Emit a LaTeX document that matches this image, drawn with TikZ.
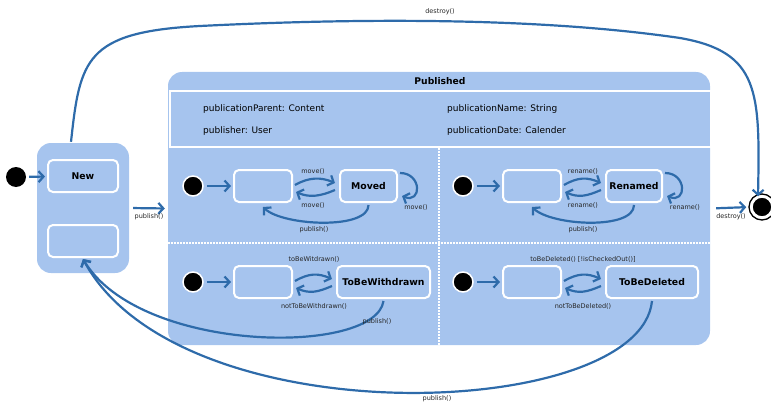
\documentclass[tikz,border=0pt]{standalone}
\usepackage{fontspec}
\setmainfont{DejaVu Sans}
\usetikzlibrary{arrows.meta}
\definecolor{lb}{HTML}{A6C4EE}
\definecolor{ln}{HTML}{2E6BAA}
\begin{document}
\begin{tikzpicture}[x=1pt,y=-1pt,
 statebox/.style={draw=white, line width=2pt, fill=lb, rounded corners=5pt, minimum height=32pt, font=\fontsize{9.3}{11}\selectfont\bfseries, inner sep=0pt},
 lbl/.style={font=\fontsize{6.5}{7.5}\selectfont, text=black!85, inner sep=0pt},
 attr/.style={font=\fontsize{9}{10}\selectfont, anchor=west, inner sep=0pt},
 initdot/.style={circle, fill=black, minimum size=20pt, inner sep=0pt},
 initw/.style={initdot, draw=white, line width=1.5pt},
 tr/.style={draw=ln, line width=2.2pt, -{Straight Barb[length=5pt,width=11pt,line width=2.2pt]}},
 sep/.style={white, line width=1.5pt, dash pattern=on 1.5pt off 1.5pt},
]
\useasboundingbox (0,0) rectangle (771,404);
% New composite
\node[initdot] (i0) at (16,177) {};
\node[fill=lb, rounded corners=14pt, minimum width=92pt, minimum height=130pt, inner sep=0pt] (newbox) at (83,208) {};
\node[statebox, minimum width=70pt] (n1) at (83,176) {New};
\node[statebox, minimum width=70pt] (n2) at (83,241) {};
% Published composite
\node[fill=lb, rounded corners=14pt, minimum width=542pt, minimum height=273pt, inner sep=0pt] (pub) at (439,208.5) {};
\node[font=\fontsize{9.2}{11}\selectfont\bfseries, inner sep=0pt] (pt) at (440,81) {Published};
\draw[white, line width=1.5pt, fill=lb] (170,91) rectangle (711,147);
\node[attr] (a1) at (203,109) {publicationParent: Content};
\node[attr] (a2) at (203,131) {publisher: User};
\node[attr] (a3) at (447,109) {publicationName: String};
\node[attr] (a4) at (447,131) {publicationDate: Calender};
\draw[sep] (439,148) -- (439,345);
\draw[sep] (168,243) -- (710,243);
% final state
\node[circle, fill=black, draw=white, line width=2.5pt, minimum size=21pt, inner sep=0pt] (f) at (762,207) {};
\draw[line width=1.3pt] (f.center) circle (13pt);
% Moved region
\node[initw] (i1) at (193,186) {};
\node[statebox, minimum width=58pt] (e1) at (263,186) {};
\node[statebox, minimum width=57pt] (m) at (368.5,186) {Moved};
% Renamed region
\node[initw] (i2) at (463,186) {};
\node[statebox, minimum width=58pt] (e2) at (532,186) {};
\node[statebox, minimum width=56pt] (r) at (634,186) {Renamed};
% ToBeWithdrawn region
\node[initw] (i3) at (193,282) {};
\node[statebox, minimum width=58pt] (e3) at (263,282) {};
\node[statebox, minimum width=93pt] (w) at (383.5,282) {ToBeWithdrawn};
% ToBeDeleted region
\node[initw] (i4) at (463,282) {};
\node[statebox, minimum width=58pt] (e4) at (532,282) {};
\node[statebox, minimum width=92pt] (d) at (652,282) {ToBeDeleted};
% transitions: New / Published
\draw[tr, shorten <=3pt, shorten >=2pt] (i0) -- (n1);
\draw[tr, shorten <=4pt, shorten >=3pt] (newbox.east) -- (pub.west);
\node[lbl] (l0) at (149,217) {publish()};
\draw[tr, shorten <=6pt, shorten >=4pt] (pub.east) -- (f.west);
\node[lbl] (l1) at (731,217) {destroy()};
\draw[tr] ([shift={(-12,-1)}]newbox.north) .. controls +(9,-82) and +(-115,6) .. (200,26) .. controls (380,17) and (550,19) .. (680,38) .. controls (760,52) and (760,92) .. ([shift={(-4,1)}]f.north);
\node[lbl] (l2) at (440,12) {destroy()};
% Moved transitions
\draw[tr, shorten <=3pt, shorten >=2pt] (i1) -- (e1);
\draw[tr] ([shift={(2,-1)}]e1.east) .. controls +(14,-8) and +(-14,-6) .. ([shift={(-4,-3)}]m.west);
\draw[tr] ([shift={(-4,4)}]m.west) .. controls +(-14,6) and +(14,6) .. ([shift={(3,6)}]e1.east);
\draw[tr] ([shift={(2,-13)}]m.east) .. controls +(22,0) and +(20,8) .. ([shift={(4,10)}]m.east);
\draw[tr] ([shift={(0,2)}]m.south) .. controls +(0,25) and +(20,19) .. ([shift={(0,4)}]e1.south);
\node[lbl] (l3) at (313,171) {move()};
\node[lbl] (l4) at (313,205) {move()};
\node[lbl] (l5) at (416,207) {move()};
\node[lbl] (l6) at (314,230) {publish()};
% Renamed transitions
\draw[tr, shorten <=3pt, shorten >=2pt] (i2) -- (e2);
\draw[tr] ([shift={(2,-1)}]e2.east) .. controls +(14,-8) and +(-14,-6) .. ([shift={(-4,-3)}]r.west);
\draw[tr] ([shift={(-4,4)}]r.west) .. controls +(-14,6) and +(14,6) .. ([shift={(3,6)}]e2.east);
\draw[tr] ([shift={(2,-13)}]r.east) .. controls +(22,0) and +(20,8) .. ([shift={(4,10)}]r.east);
\draw[tr] ([shift={(0,2)}]r.south) .. controls +(0,25) and +(20,19) .. ([shift={(0,4)}]e2.south);
\node[lbl] (l7) at (583,171) {rename()};
\node[lbl] (l8) at (583,205) {rename()};
\node[lbl] (l9) at (685,207) {rename()};
\node[lbl] (l10) at (583,230) {publish()};
% ToBeWithdrawn transitions
\draw[tr, shorten <=3pt, shorten >=2pt] (i3) -- (e3);
\draw[tr] ([shift={(2,-1)}]e3.east) .. controls +(14,-8) and +(-14,-6) .. ([shift={(-4,-3)}]w.west);
\draw[tr] ([shift={(-4,4)}]w.west) .. controls +(-14,6) and +(14,6) .. ([shift={(3,6)}]e3.east);
\node[lbl] (l11) at (314,259) {toBeWitdrawn()};
\node[lbl] (l12) at (314,306) {notToBeWithdrawn()};
\draw[tr] ([shift={(0,2)}]w.south) .. controls +(-8,55) and +(57,95) .. ([shift={(0,1)}]n2.south);
\node[lbl] (l13) at (377,322) {publish()};
% ToBeDeleted transitions
\draw[tr, shorten <=3pt, shorten >=2pt] (i4) -- (e4);
\draw[tr] ([shift={(2,-1)}]e4.east) .. controls +(14,-8) and +(-14,-6) .. ([shift={(-4,-3)}]d.west);
\draw[tr] ([shift={(-4,4)}]d.west) .. controls +(-14,6) and +(14,6) .. ([shift={(3,6)}]e4.east);
\node[lbl] (l14) at (583,259) {toBeDeleted() [!isCheckedOut()]};
\node[lbl] (l15) at (583,306) {notToBeDeleted()};
\draw[tr] ([shift={(0,2)}]d.south) .. controls +(-12,120) and +(97,180) .. ([shift={(0,1)}]n2.south);
\node[lbl] (l16) at (437,399) {publish()};
\end{tikzpicture}
\end{document}
